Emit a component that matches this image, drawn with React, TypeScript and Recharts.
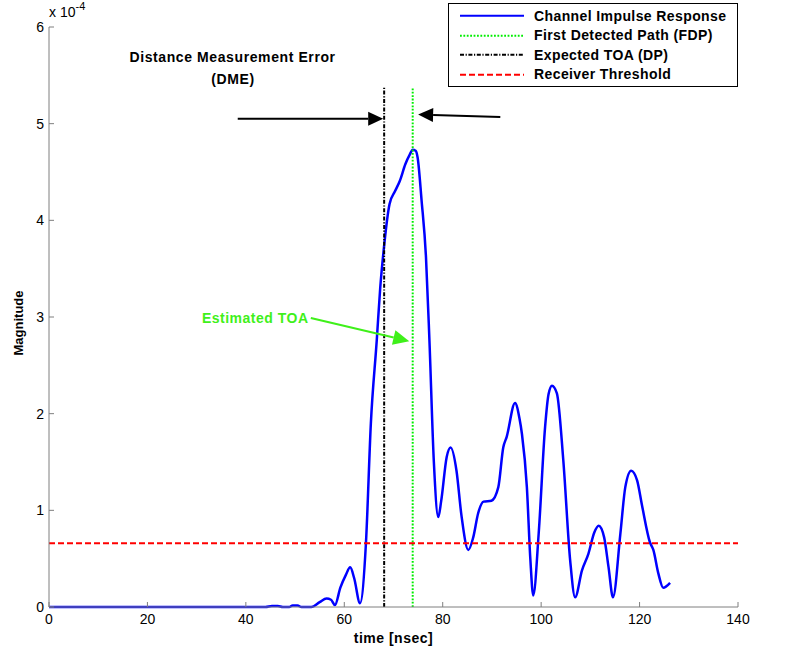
import React from 'react'
import {
  ComposedChart,
  Line,
  XAxis,
  YAxis,
  Legend,
  ReferenceLine,
  ReferenceDot,
  Label
} from 'recharts'

// time in nsec, magnitude in units of 1e-4
const timeNs = [
  0, 44, 45.3, 46.5, 47.5, 48.8, 49.5, 50.5, 51.3, 53.3, 55, 56.4, 57.3, 58.1, 59.2, 60.3, 61.2, 62,
  63.2, 64.4, 65.4, 66.6, 67.3, 68, 69.2, 70.3, 71.3, 72.4, 73.3, 73.9, 74.5, 74.9, 75.7, 76.6, 77.3,
  78.2, 79.1, 79.7, 80.8, 81.6, 82.8, 83.8, 85.2, 86.2, 87.2, 88.3, 89.9, 91.3, 92.3, 93, 94.7, 95.6,
  96.1, 97.1, 97.8, 98.4, 99.5, 100.8, 101.5, 102.2, 103.2, 104.5, 105.9, 106.9, 108.3, 109.6, 110.8,
  111.7, 112.8, 113.7, 114.6, 116.1, 117.1, 118.3, 119.5, 120.5, 122.1, 122.8, 123.8, 124.8, 126.2
]
const magnitude = [
  0, 0, 0.01, 0.01, 0, 0, 0.015, 0.015, 0, 0, 0.05, 0.087, 0.075, 0.02, 0.2, 0.33, 0.41, 0.3,
  0.04, 0.66, 1.9, 2.76, 3.3, 3.69, 4.17, 4.3, 4.41, 4.58, 4.68, 4.73, 4.72, 4.65, 4.21, 3.62, 2.76,
  1.5, 0.93, 1.1, 1.55, 1.65, 1.41, 0.95, 0.59, 0.72, 0.97, 1.09, 1.1, 1.24, 1.65, 1.76, 2.11, 1.95,
  1.79, 1.24, 0.5, 0.12, 0.76, 1.86, 2.2, 2.29, 2.21, 1.52, 0.48, 0.1, 0.38, 0.55, 0.77,
  0.84, 0.72, 0.41, 0.1, 0.76, 1.24, 1.41, 1.31, 1.05, 0.67, 0.59, 0.35, 0.2, 0.25
]

const xTicks = [0, 20, 40, 60, 80, 100, 120, 140]
const yTicks = [0, 1, 2, 3, 4, 5, 6]

const expectedToa = 68.1
const firstDetectedPath = 73.9
const markerTop = 5.38
const threshold = 0.66

const cirData = timeNs.map((t, i) => ({ t, v: magnitude[i] }))
const fdpData = [{ t: firstDetectedPath, v: 0 }, { t: firstDetectedPath, v: markerTop }]
const toaData = [{ t: expectedToa, v: 0 }, { t: expectedToa, v: markerTop }]
const thresholdData = [{ t: 0, v: threshold }, { t: 140, v: threshold }]

const FONT = '"Liberation Sans", Arial, Helvetica, sans-serif'
const AXIS = '#7f7f7f'
const GREEN = '#3ff01a'

const series = [
  { name: 'Channel Impulse Response', color: '#0000ff', dash: undefined, width: 2.5 },
  { name: 'First Detected Path (FDP)', color: '#00ee00', dash: '1.8 1.6', width: 2 },
  { name: 'Expected TOA (DP)', color: '#000000', dash: '4 1.6 1.2 1.6', width: 2 },
  { name: 'Receiver Threshold', color: '#ff0000', dash: '6 3', width: 2 }
]

function XTick({ x, y, payload }: any) {
  return (
    <g>
      <line x1={x} y1={y} x2={x} y2={y - 5} stroke={AXIS} />
      <text x={x} y={y + 17} textAnchor="middle" fontSize={14} fontFamily={FONT} fill="#000">
        {payload.value}
      </text>
    </g>
  )
}

function YTick({ x, y, payload }: any) {
  return (
    <g>
      <line x1={x} y1={y} x2={x + 5} y2={y} stroke={AXIS} />
      <text x={x - 5} y={y + 5} textAnchor="end" fontSize={14} fontFamily={FONT} fill="#000">
        {payload.value}
      </text>
    </g>
  )
}

function YAxisLabels({ viewBox }: any) {
  const { x, y, width, height } = viewBox
  const cx = x + 18
  const cy = y + height / 2 + 6
  return (
    <g fontFamily={FONT} fill="#000">
      <text
        x={cx}
        y={cy}
        transform={`rotate(-90 ${cx} ${cy})`}
        textAnchor="middle"
        dominantBaseline="central"
        fontSize={13}
        fontWeight="bold"
      >
        Magnitude
      </text>
      <text x={x + width} y={y - 10} fontSize={14}>
        x 10
        <tspan dy={-7} fontSize={11}>-4</tspan>
      </text>
    </g>
  )
}

function arrowShape(color: string, head: number, half: number, width: number) {
  return (props: any) => {
    const { x1, y1, x2, y2 } = props
    const dx = x2 - x1
    const dy = y2 - y1
    const len = Math.hypot(dx, dy) || 1
    const ux = dx / len
    const uy = dy / len
    const bx = x2 - ux * head
    const by = y2 - uy * head
    const px = -uy * half
    const py = ux * half
    return (
      <g>
        <line x1={x1} y1={y1} x2={bx} y2={by} stroke={color} strokeWidth={width} />
        <polygon points={`${x2},${y2} ${bx + px},${by + py} ${bx - px},${by - py}`} fill={color} />
      </g>
    )
  }
}

function LegendBox() {
  return (
    <div
      style={{
        width: 290,
        height: 84,
        boxSizing: 'border-box',
        border: '1px solid #000',
        background: '#fff',
        paddingTop: 2,
        fontFamily: FONT
      }}
    >
      {series.map(s => (
        <div key={s.name} style={{ display: 'flex', alignItems: 'center', height: 19.5 }}>
          <svg width={85} height={19.5} style={{ display: 'block' }}>
            <line
              x1={11}
              y1={9.75}
              x2={75}
              y2={9.75}
              stroke={s.color}
              strokeWidth={2}
              strokeDasharray={s.dash}
            />
          </svg>
          <span style={{ fontSize: 14, fontWeight: 'bold', letterSpacing: 0.4, color: '#000', whiteSpace: 'nowrap' }}>
            {s.name}
          </span>
        </div>
      ))}
    </div>
  )
}

const textStyle = { fontFamily: FONT, fontWeight: 'bold' as const, fontSize: 14, letterSpacing: 0.6 }

export default function App() {
  return (
    <div style={{ position: 'absolute', left: 0, top: 0, width: 809, height: 653, background: '#fff' }}>
      <ComposedChart width={809} height={653} margin={{ top: 27, right: 71, bottom: 0, left: 0 }}>
        <XAxis
          dataKey="t"
          type="number"
          domain={[0, 140]}
          ticks={xTicks}
          height={46}
          tickLine={false}
          tickSize={0}
          tickMargin={0}
          tick={<XTick />}
          axisLine={{ stroke: AXIS }}
          allowDuplicatedCategory={false}
        >
          <Label
            value="time [nsec]"
            position="insideBottom"
            offset={10}
            fill="#000"
            fontFamily={FONT}
            fontSize={14}
            fontWeight="bold"
            letterSpacing={0.5}
          />
        </XAxis>
        <YAxis
          type="number"
          domain={[0, 6]}
          ticks={yTicks}
          width={49}
          tickLine={false}
          tickSize={0}
          tickMargin={0}
          tick={<YTick />}
          axisLine={{ stroke: AXIS }}
          label={{ content: YAxisLabels }}
        />

        <Line
          data={cirData}
          dataKey="v"
          name={series[0].name}
          type="monotone"
          stroke={series[0].color}
          strokeWidth={series[0].width}
          dot={false}
          isAnimationActive={false}
        />
        <Line
          data={fdpData}
          dataKey="v"
          name={series[1].name}
          type="linear"
          stroke={series[1].color}
          strokeWidth={series[1].width}
          strokeDasharray={series[1].dash}
          dot={false}
          isAnimationActive={false}
        />
        <Line
          data={toaData}
          dataKey="v"
          name={series[2].name}
          type="linear"
          stroke={series[2].color}
          strokeWidth={series[2].width}
          strokeDasharray={series[2].dash}
          dot={false}
          isAnimationActive={false}
        />
        <Line
          data={thresholdData}
          dataKey="v"
          name={series[3].name}
          type="linear"
          stroke={series[3].color}
          strokeWidth={series[3].width}
          strokeDasharray={series[3].dash}
          dot={false}
          isAnimationActive={false}
        />

        {/* DME arrows */}
        <ReferenceLine
          segment={[{ x: 38.35, y: 5.05 }, { x: 67.9, y: 5.05 }]}
          shape={arrowShape('#000', 15, 7, 2)}
        />
        <ReferenceLine
          segment={[{ x: 91.7, y: 5.07 }, { x: 75.0, y: 5.095 }]}
          shape={arrowShape('#000', 15, 7, 2)}
        />
        {/* Estimated TOA arrow */}
        <ReferenceLine
          segment={[{ x: 53.2, y: 2.99 }, { x: 73.2, y: 2.75 }]}
          shape={arrowShape(GREEN, 16, 7.5, 2)}
        />

        <ReferenceDot x={37.3} y={5.685} r={0} fill="none" stroke="none">
          <Label value="Distance Measurement Error" position="center" fill="#000" {...textStyle} />
        </ReferenceDot>
        <ReferenceDot x={37.4} y={5.46} r={0} fill="none" stroke="none">
          <Label value="(DME)" position="center" fill="#000" {...textStyle} />
        </ReferenceDot>
        <ReferenceDot x={41.9} y={2.985} r={0} fill="none" stroke="none">
          <Label value="Estimated TOA" position="center" fill={GREEN} {...textStyle} letterSpacing={0.5} />
        </ReferenceDot>

        <Legend
          layout="horizontal"
          verticalAlign="middle"
          align="center"
          wrapperStyle={{ top: 3, left: 448, width: 290, height: 84 }}
          content={() => <LegendBox />}
        />
      </ComposedChart>
    </div>
  )
}
